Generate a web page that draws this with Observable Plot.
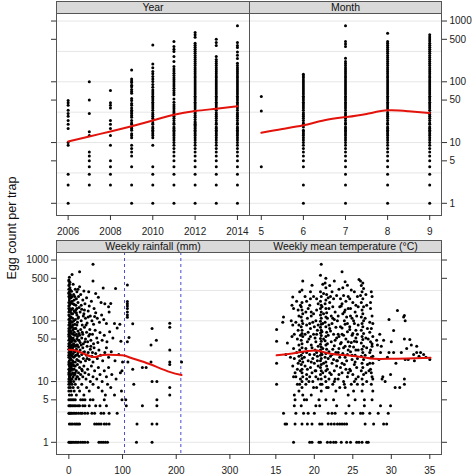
<!DOCTYPE html>
<html>
<head>
<meta charset="utf-8">
<script src="https://cdn.jsdelivr.net/npm/d3@7"></script>
<script src="https://cdn.jsdelivr.net/npm/@observablehq/plot@0.6"></script>
<style>
  html, body { margin: 0; padding: 0; background: #fff; }
  #chart { position: relative; width: 472px; height: 475px; overflow: hidden; font-family: "Liberation Sans", Arial, Helvetica, sans-serif; }
  .strip { position: absolute; box-sizing: border-box; height: 13px; background: #d9d9d9; border: 1px solid #555;
           font-size: 10.5px; line-height: 11px; text-align: center; color: #111; }
  #ylab { position: absolute; left: 0; top: 0; }
</style>
</head>
<body>
<div id="chart"></div>
<script>
// ---------------- DATA ----------------
const countTicks = [1, 5, 10, 50, 100, 500, 1000];
const yearTicks = [2006, 2008, 2010, 2012, 2014];
const monthTicks = [5, 6, 7, 8, 9];
const rainTicks = [0, 100, 200, 300];
const tempTicks = [15, 20, 25, 30, 35];
const stripLabels = ["Year", "Month", "Weekly rainfall (mm)", "Weekly mean temperature (°C)"];
const yTitle = "Egg count per trap";

// egg counts observed per year
const y2006 = [1,2,3,9,10,17,20,23,27,30,34,41,45,49];
const y2007 = [2,3,4,5,6,7,13,15,30,50,100];
const y2008 = [2,3,4,5,9,13,17,20,23,37,41,45,72];
const y2009 = [1,2,4,6,7,8,9,12,13,14,16,17,18,20,21,23,26,28,30,32,34,37,41,44,49,53,65,69,75,83,88,97,103,111,157];
const y2010 = [1,2,3,4,9,12,13,14,15,16,17,18,20,21,23,25,27,29,31,34,37,40,43,46,50,54,58,63,68,73,81,90,101,111,122,135,147,171,197,405];
const y2011 = [1,2,3,4,5,6,7,8,9,10,11,12,13,14,15,16,17,18,20,21,23,25,27,29,31,33,36,39,42,46,52,61,66,72,78,85,92,100,108,117,127,138,150,163,178,215,261,315,344,381,460];
const y2012 = [1,2,3,4,5,6,7,8,9,10,11,12,13,14,15,16,17,18,19,20,21,22,24,26,28,30,32,34,37,40,43,46,50,54,58,63,68,73,79,85,92,99,107,116,125,135,146,158,171,185,200,216,233,252,272,294,318,343,370,400,432,542,592,649];
const y2013 = [1,2,3,4,5,6,7,8,9,10,11,12,13,14,15,16,17,18,20,21,23,25,27,29,31,34,37,40,43,46,50,54,58,63,68,73,79,85,92,99,107,116,125,135,146,158,171,185,200,216,233,261,396,443,503];
const y2014 = [1,2,3,4,5,6,7,8,9,10,11,12,13,14,15,16,17,18,20,21,23,25,27,29,31,34,37,40,43,46,50,54,58,63,68,73,79,85,92,99,107,116,125,135,146,158,171,185,202,241,273,309,366,397,443,833];
const years = [2006, 2007, 2008, 2009, 2010, 2011, 2012, 2013, 2014];
const yearCounts = [y2006, y2007, y2008, y2009, y2010, y2011, y2012, y2013, y2014];
const yearFit = [10.4, 12.6, 15.2, 18.5, 23, 28.7, 33, 36, 39.5];

// egg counts observed per month
const m5 = [4, 33, 57];
const m6 = [1,2,4,5,6,7,8,9,10,11,12,13,14,15,16,18,20,21,23,25,27,29,31,34,37,40,43,46,50,54,58,63,68,73,79,85,92,99,107,116,125,133];
const m7 = [1,2,3,4,5,6,7,8,9,10,11,12,13,14,15,16,17,18,20,21,23,25,27,29,31,34,37,40,43,46,50,54,58,63,68,73,79,85,92,99,107,116,125,135,146,158,171,185,200,216,244,381,420,460,833];
const m8 = [1,2,3,4,5,6,7,8,9,10,11,12,13,14,15,16,17,18,20,21,23,25,27,29,31,34,37,40,43,46,50,54,58,63,68,73,79,85,92,99,107,116,125,135,146,158,171,185,200,216,233,252,272,294,318,343,370,400,432,460,630];
const m9 = [1,2,3,4,5,6,7,8,9,10,11,12,13,14,15,16,17,18,20,21,23,25,27,29,31,34,37,40,43,46,50,54,58,63,68,73,79,85,92,99,107,116,125,135,146,158,171,185,200,216,233,252,272,294,318,343,370,400,432,467,504,545,592];
const months = [5, 6, 7, 8, 9];
const monthCounts = [m5, m6, m7, m8, m9];
const monthFitX = [5, 5.5, 6, 6.5, 7, 7.5, 8, 8.5, 9];
const monthFit = [14.5, 16.7, 19.2, 23.2, 26.2, 29.6, 33.9, 32.8, 30.5];

// weekly rainfall (mm), egg count
const rainPts = [
 [45,850],[20,640],[6,578],[1,520],[0,470],[2,430],[8,400],[0,380],[45,450],[20,362],[64,347],[87,340],[12,330],[3,320],[28,310],[37,300],[5,305],[0,290],[15,300],
 [0,280],[2,260],[4,240],[1,220],[6,210],[9,270],[11,250],[14,230],[17,200],[3,190],[0,175],[7,160],[10,185],[19,165],[22,270],[26,220],[30,190],[33,240],[38,175],[42,210],[47,160],[55,245],[60,200],[67,190],[74,170],[50,280],[24,155],[13,150],[5,155],[2,200],[78,192],
 [0,140],[1,120],[3,100],[2,90],[5,130],[7,110],[8,85],[10,145],[12,105],[15,125],[16,95],[18,115],[21,140],[23,100],[25,85],[28,130],[31,110],[34,92],[36,145],[40,120],[43,100],[46,88],[50,135],[53,110],[57,95],[61,125],[65,105],[70,90],[75,140],[85,90],[95,88],[4,150],[0,105],[6,95],[11,88],[14,135],[29,150],[48,118],
 [0,75],[0,60],[1,50],[1,42],[2,68],[3,55],[3,45],[4,78],[5,62],[6,48],[7,70],[8,52],[9,42],[10,65],[11,58],[12,46],[13,75],[14,40],[16,55],[17,68],[18,48],[19,62],[21,44],[22,72],[24,52],[26,60],[27,42],[29,78],[31,50],[33,65],[35,45],[37,56],[39,72],[41,48],[44,60],[46,42],[49,70],[52,52],[54,44],[58,64],[62,48],[66,58],[71,45],[76,66],[82,52],[90,76],[97,46],[2,80],[0,55],[5,45],[9,75],[15,50],[20,58],[1,65],
 [0,38],[0,30],[0,25],[1,34],[1,22],[2,28],[2,36],[3,24],[3,32],[4,20],[4,38],[5,27],[6,33],[7,22],[7,36],[8,29],[9,25],[10,38],[11,31],[12,21],[13,27],[14,34],[15,23],[17,30],[18,37],[19,26],[21,33],[22,21],[24,28],[26,36],[27,24],[29,31],[31,22],[33,27],[34,38],[36,30],[38,23],[40,34],[43,26],[45,21],[47,36],[50,29],[53,24],[56,33],[59,27],[63,22],[67,30],[70,36],[74,25],[79,31],[86,22],[93,28],[100,21],[5,40],[16,40],
 [0,19],[0,16],[0,13],[0,11],[1,18],[1,14],[2,12],[2,17],[3,15],[3,10],[4,13],[5,18],[5,11],[6,16],[7,14],[8,12],[8,19],[9,10],[10,16],[11,13],[12,18],[13,11],[14,15],[15,12],[16,19],[18,14],[19,11],[20,17],[22,13],[24,16],[26,12],[28,18],[30,14],[32,11],[35,16],[37,13],[40,10],[42,18],[45,12],[48,15],[52,11],[55,17],[58,13],[62,10],[66,15],[70,12],[74,17],[80,13],[88,11],[96,14],
 [0,9],[0,8],[0,7],[1,6],[2,9],[3,8],[4,7],[5,6],[6,9],[8,8],[10,7],[12,9],[14,6],[17,8],[20,7],[24,9],[28,6],[33,8],[38,7],[45,9],[55,8],[62,7],[68,6],[72,9],[78,8],[85,6],[98,7],
 [0,5],[3,5],[6,5],[9,5],[12,5],[22,5],[26,5],[30,5],[40,5],[45,5],[66,5],[99,5],
 [0,4],[2,4],[4,4],[7,4],[10,4],[13,4],[17,4],[20,4],[26,4],[30,4],[38,4],[50,4],[58,4],[70,4],
 [0,3],[1,3],[3,3],[5,3],[8,3],[11,3],[14,3],[18,3],[22,3],[25,3],[30,3],[35,3],[43,3],[48,3],[60,3],[65,3],[75,3],[90,3],
 [1,2],[4,2],[7,2],[11,2],[14,2],[17,2],[20,2],[48,2],[52,2],[56,2],[60,2],[66,2],[70,2],[75,2],
 [0,1],[2,1],[4,1],[6,1],[9,1],[12,1],[15,1],[18,1],[22,1],[26,1],[30,1],[35,1],[56,1],[60,1],[64,1],[68,1],[72,1],
 [0,450],[1,400],[0,330],[1,300],[2,350],[0,250],[1,240],[3,270],[0,200],[1,180],[2,160],[4,200],[0,160],[1,150],[3,140],[0,125],[2,110],[4,115],[1,95],[3,85],[0,85],[2,75],[4,65],[0,68],[1,58],[3,50],[0,48],[2,44],[4,52],[0,42],[1,38],[3,36],[0,34],[2,32],[4,30],[1,28],[3,27],[0,27],[2,24],[4,23],[1,20],[0,21],[3,19],[2,16],[4,17],[1,15],[0,14],[3,13],[2,11],[1,12],[4,10],[0,10],
 [6,250],[8,190],[10,220],[7,130],[9,100],[6,80],[8,60],[10,48],[7,40],[9,32],[6,26],[8,21],[10,18],[7,16],[9,13],[6,11],[11,140],[12,75],[13,38],[11,26],[12,14],[14,60],[16,28],[15,85],[17,110],[19,48],[18,22],[16,12],[13,180],[15,160],[18,250],[17,330],[23,180],[27,120],[25,65],[23,40],[27,30],[25,15],[32,85],[30,45],[34,24],[36,115],[39,60],[41,38],[44,30],
 [109,389],[109,207],[109,190],[109,175],[109,160],[109,140],[109,125],[109,114],[119,89],[155,75],[188,91],[188,78],[163,48],[153,40],[112,53],[109,45],
 [188,33],[153,21],[188,21],[188,19],[210,21],[110,21],[119,16],[137,17],[144,17],[99,15],[121,9],[155,10],[164,10],[188,8],[188,6],
 [106,5],[164,5],[107,4],[137,4],[164,4],[127,2],[155,2],[164,2],[126,1],[155,1]
];
const rainThresholds = [103.7, 208.6];
const rainFitX = [0, 12.5, 28, 46.6, 59, 74.5, 99.4, 115, 140, 164.6, 189, 210];
const rainFit = [33.5, 32.5, 28.7, 25.3, 27, 27.6, 27, 24.7, 21, 17.3, 14.3, 12.8];

// weekly mean temperature (°C), egg count
const tempPts = [
 [15.1,72],[15.1,46],[15.1,20],[15.1,9],[15.9,95],[16.0,115],[16.3,28],[16.0,3],[16.2,2],[16.4,2],[16.9,25],[16.5,43],[17.2,247],[17.1,180],[17.3,160],[17.0,100],[17.2,85],[17.4,60],[17.1,55],[17.3,35],[17.4,24],[17.2,18],[17.5,14],[17.3,12],[17.4,6],[17.5,5],[17.3,1],[17.5,2],[17.4,4],[17.6,3],
 [18.5,450],[18.4,320],[18.4,200],[18.3,170],[18.4,150],[18.5,130],[18.3,115],[18.4,100],[18.5,90],[18.3,80],[18.4,70],[18.4,62],[18.5,55],[18.3,48],[18.4,42],[18.4,36],[18.5,30],[18.3,27],[18.4,24],[18.5,21],[18.3,19],[18.4,16],[18.4,14],[18.5,12],[18.4,10],[18.4,8],[18.5,6],[18.4,2],
 [18.0,120],[17.9,70],[18.8,250],[18.9,140],[18.8,60],[18.0,40],[18.9,35],[18.7,25],[18.1,22],[18.8,18],[17.8,16],[19.0,13],[18.2,11],[18.9,9],[18.0,7],[18.7,5],[18.3,4],[18.6,3],[19.1,2],[19.0,5],
 [19.7,385],[19.5,230],[19.4,180],[19.6,120],[19.8,95],[19.5,75],[19.9,60],[19.3,50],[19.6,40],[20.1,33],[19.4,28],[19.8,24],[20.0,20],[19.5,17],[19.7,14],[20.2,12],[19.3,10],[19.9,8],[19.6,6],[20.2,4],[19.4,1],[19.7,1],[19.7,2],[20.3,150],[20.4,70],[20.2,45],[20.4,26],[20.5,18],[20.0,3],[19.2,3],
 [20.9,850],[20.8,560],[20.8,300],[20.9,250],[20.8,210],[20.9,180],[20.8,160],[20.9,140],[20.8,125],[20.9,110],[20.8,98],[20.9,88],[20.8,78],[20.9,70],[20.8,63],[20.9,57],[20.8,51],[20.9,46],[20.8,41],[20.9,37],[20.8,33],[20.9,30],[20.8,27],[20.9,24],[20.8,22],[20.9,19],[20.8,17],[20.9,15],[20.8,13],[20.9,11],[20.8,9],[20.9,7],[20.6,5],[20.6,1],[20.8,1],[20.7,2],[21.0,2],[20.7,4],
 [21.5,500],[21.4,420],[21.5,350],[21.6,270],[21.5,220],[21.4,190],[21.5,160],[21.6,135],[21.5,115],[21.4,95],[21.5,80],[21.6,65],[21.5,55],[21.4,47],[21.5,40],[21.6,34],[21.5,29],[21.4,25],[21.5,21],[21.6,18],[21.5,15],[21.4,12],[21.5,10],[21.6,8],[21.7,1],[21.8,2],[21.5,5],[21.8,3],
 [22.1,250],[22.3,300],[22.0,200],[22.6,450],[22.5,230],[22.4,170],[22.7,140],[22.2,120],[22.6,105],[22.3,90],[22.8,78],[22.1,68],[22.5,60],[22.9,52],[22.2,45],[22.6,39],[22.4,34],[22.8,30],[22.1,26],[22.5,23],[22.3,20],[22.9,18],[22.6,15],[22.2,13],[22.7,11],[22.4,9],[22.8,7],[22.5,5],[22.1,1],[22.5,1],[22.8,1],[22.2,2],[22.6,2],[23.0,2],[22.3,3],[22.7,3],[22.9,4],[23.0,100],[23.1,60],[23.2,35],[23.0,22],[23.2,13],
 [23.6,640],[24.0,440],[24.3,385],[23.8,260],[24.1,210],[23.5,175],[24.0,150],[23.7,130],[24.2,115],[23.9,100],[24.0,88],[23.6,76],[24.3,66],[23.8,58],[24.1,50],[23.5,44],[24.0,38],[24.4,33],[23.7,29],[24.0,25],[24.2,22],[23.9,19],[24.1,16],[23.6,14],[24.3,12],[23.8,10],[24.0,8],[23.5,1],[24.2,1],[24.7,1],[23.3,2],[23.6,2],[23.9,2],[24.2,2],[24.1,3],[24.5,4],[24.4,6],
 [24.8,320],[25.0,200],[24.7,160],[25.3,140],[24.9,110],[25.2,90],[24.6,72],[25.0,62],[25.4,52],[24.8,44],[25.1,37],[24.7,31],[25.3,27],[24.9,23],[25.2,19],[24.6,16],[25.0,13],[25.4,11],[24.8,9],[25.1,7],[25.5,1],[25.8,1],[25.0,3],[25.3,5],
 [25.8,480],[26.0,450],[26.3,420],[26.1,380],[26.4,340],[26.2,300],[26.0,260],[26.3,230],[26.1,200],[26.4,170],[26.2,150],[26.3,130],[26.1,115],[26.4,100],[26.2,90],[26.3,80],[26.1,70],[26.4,62],[26.2,55],[26.3,49],[26.1,43],[26.4,38],[26.2,34],[26.3,30],[26.1,26],[26.4,23],[26.2,20],[26.3,17],[26.1,15],[26.4,13],[26.2,11],[26.3,9],[26.2,7],[26.5,5],[26.2,1],[26.8,1],[27.0,1],[26.6,2],[26.0,3],[26.5,4],[26.3,3],
 [27.4,300],[27.3,200],[27.5,120],[27.2,95],[27.4,75],[27.6,55],[27.3,45],[27.5,38],[27.2,30],[27.4,25],[27.6,20],[27.3,16],[27.5,12],[27.4,9],[27.6,7],[27.5,5],[27.7,2],[27.2,3],[27.0,50],[27.1,15],
 [28.2,40],[28.5,60],[28.7,38],[28.4,23],[28.9,12],[28.6,30],[28.1,48],[29.0,48],[28.8,11],[29.2,10],[28.6,4],[29.0,2],[29.4,2],[28.3,3],
 [29.7,105],[30.0,45],[30.3,69],[29.9,13],[29.7,30],[30.3,30],[29.6,3],[29.9,4],[30.5,8],[30.8,147],[31.3,30],[30.6,20],[31.1,8],[29.5,25],
 [31.7,122],[31.6,115],[31.8,100],[31.7,50],[31.8,23],[32.2,23],[31.7,11],[31.7,9],[32.4,49],[32.6,40],[32.0,35],[32.9,28],
 [33.3,38],[33.3,30],[33.6,26],[33.8,30],[34.2,28],[34.5,25],[35.0,23],[33.0,22],
 [17.7,210],[17.9,150],[17.6,95],[17.8,50],[17.7,30],[17.9,20],[17.6,12],[17.8,9],
 [18.1,300],[18.2,180],[18.0,85],[18.2,58],[18.1,33],[18.0,26],[18.2,15],[18.1,9],
 [19.0,210],[19.2,160],[19.1,110],[19.0,85],[19.2,65],[19.1,45],[19.0,30],[19.2,22],[19.1,16],[19.0,11],
 [19.5,300],[19.9,250],[19.6,140],[19.9,130],[19.4,90],[20.0,80],[19.5,55],[20.1,52],[19.7,36],[20.0,28],[19.6,21],[20.1,15],[19.4,12],[19.8,10],
 [20.3,230],[20.5,190],[20.2,100],[20.5,85],[20.3,60],[20.5,38],[20.3,30],[20.4,22],[20.2,15],[20.5,11],[20.3,8],
 [21.1,400],[21.2,280],[21.0,170],[21.2,130],[21.1,90],[21.0,66],[21.2,50],[21.1,35],[21.0,28],[21.2,20],[21.1,14],[21.0,9],
 [21.8,240],[21.9,160],[21.7,110],[21.9,85],[21.8,58],[21.7,42],[21.9,31],[21.8,24],[21.7,16],[21.9,11],[21.8,8],
 [22.0,380],[22.9,260],[22.4,110],[22.0,75],[22.7,48],[22.3,28],[22.9,22],[22.0,14],[22.6,10],
 [23.2,330],[23.4,230],[23.3,170],[23.1,120],[23.4,80],[23.2,55],[23.4,42],[23.1,30],[23.3,25],[23.4,17],[23.1,11],[23.3,8],
 [23.7,350],[24.4,250],[23.6,190],[24.4,160],[23.9,140],[24.3,90],[23.6,60],[24.4,45],[23.8,36],[24.3,28],[23.6,20],[24.4,14],[23.9,9],
 [24.6,230],[25.2,300],[25.4,180],[24.7,120],[25.1,100],[24.6,80],[25.4,70],[24.9,58],[25.2,46],[24.6,38],[25.4,33],[24.9,27],[25.3,21],[24.7,15],[25.2,10],
 [25.6,250],[25.7,170],[25.5,120],[25.7,85],[25.6,60],[25.5,45],[25.7,33],[25.6,24],[25.5,17],[25.7,12],[25.6,9],
 [26.7,270],[26.8,180],[26.6,110],[26.9,75],[26.7,52],[26.8,36],[26.6,27],[26.9,19],[26.7,14],[26.8,10],
 [27.5,250],[27.3,160],[27.6,90],[27.2,65],[27.5,42],[27.3,33],[27.6,26],[27.2,20],[27.4,14],[27.6,11]
];
const tempFitX = [15.1, 16.9, 19.1, 20.4, 22.1, 24.3, 26.4, 27.7, 29.9, 32.1, 35.1];
const tempFit = [27, 28.7, 31.7, 32.3, 28.7, 27, 25, 23.7, 23.7, 24, 24.7];

// ---------------- BUILD ----------------
const W = 472, H = 475;
const yDomain = [0.63, 1330];
const gridVals = d3.range(0, 7).map(k => Math.pow(10, k / 2));
const FONT = '"Liberation Sans", Arial, Helvetica, sans-serif';

const yearRows = years.flatMap((yr, i) => yearCounts[i].map(c => ({x: yr, y: c})));
const monthRows = months.flatMap((m, i) => monthCounts[i].map(c => ({x: m, y: c})));
const rainRows = rainPts.map(([x, y]) => ({x, y}));
const tempRows = tempPts.map(([x, y]) => ({x, y}));
const yearFitRows = years.map((x, i) => ({x, y: yearFit[i]}));
const monthFitRows = monthFitX.map((x, i) => ({x, y: monthFit[i]}));
const rainFitRows = rainFitX.map((x, i) => ({x, y: rainFit[i]}));
const tempFitRows = tempFitX.map((x, i) => ({x, y: tempFit[i]}));

const COL = {left: [56, 249], right: [249, 441]};
const ROW = {top: [13, 215], bottom: [252, 454]};

function panel({col, row, xDomain, xTicks, yAnchor, yLabels, rows, fit, extra = []}) {
  const [x0, x1] = COL[col], [y0, y1] = ROW[row];
  const right = yAnchor === "right";
  const svg = Plot.plot({
    width: W, height: H,
    marginLeft: x0, marginRight: W - x1, marginTop: y0, marginBottom: H - y1,
    style: {background: "transparent", fontFamily: FONT, fontSize: "10px", color: "#222"},
    x: {type: "linear", domain: xDomain},
    y: {type: "log", domain: yDomain},
    marks: [
      Plot.ruleY(gridVals, {stroke: "#e6e6e6", strokeWidth: 1}),
      ...extra,
      Plot.dot(rows, {x: "x", y: "y", r: 1.5, fill: "#000", stroke: null}),
      Plot.line(fit, {x: "x", y: "y", stroke: "#e3120b", strokeWidth: 2, curve: "natural"}),
      Plot.frame({stroke: "#555", strokeWidth: 1}),
      Plot.axisX({ticks: xTicks, tickSize: 5, tickPadding: 7, tickFormat: d => String(d), label: null, stroke: "#333"}),
      Plot.axisY({anchor: yAnchor, ticks: countTicks, tickSize: 5, tickPadding: 3,
                  tickFormat: () => "", label: null, stroke: "#333"}),
      ...(yLabels ? [Plot.text(countTicks, {y: d => d, text: d => String(d), frameAnchor: yAnchor,
                  dx: right ? 8 : -8, textAnchor: right ? "start" : "end", fill: "#222", fontSize: 10})] : [])
    ]
  });
  svg.style.position = "absolute";
  svg.style.left = "0px";
  svg.style.top = "0px";
  svg.style.background = "transparent";
  svg.style.maxWidth = "none";
  return svg;
}

const chart = document.getElementById("chart");
chart.appendChild(panel({col: "left", row: "top", xDomain: [2005.45, 2014.57], xTicks: yearTicks,
  yAnchor: "left", yLabels: false, rows: yearRows, fit: yearFitRows}));
chart.appendChild(panel({col: "right", row: "top", xDomain: [4.72, 9.28], xTicks: monthTicks,
  yAnchor: "right", yLabels: true, rows: monthRows, fit: monthFitRows}));
chart.appendChild(panel({col: "left", row: "bottom", xDomain: [-23, 336.5], xTicks: rainTicks,
  yAnchor: "left", yLabels: true, rows: rainRows, fit: rainFitRows,
  extra: [Plot.ruleX(rainThresholds, {stroke: "#4b4bd6", strokeWidth: 1, strokeDasharray: "3,3"})]}));
chart.appendChild(panel({col: "right", row: "bottom", xDomain: [11.58, 36.52], xTicks: tempTicks,
  yAnchor: "right", yLabels: false, rows: tempRows, fit: tempFitRows}));

// strips
const stripPos = [[56, 1, 193], [249, 1, 192], [56, 240, 193], [249, 240, 192]];
stripLabels.forEach((t, i) => {
  const d = document.createElement("div");
  d.className = "strip";
  const [l, tp, w] = stripPos[i];
  d.style.left = l + "px"; d.style.top = tp + "px"; d.style.width = (w + 1) + "px";
  d.textContent = t;
  chart.appendChild(d);
});

// y-axis title
const ns = "http://www.w3.org/2000/svg";
const s = document.createElementNS(ns, "svg");
s.setAttribute("id", "ylab");
s.setAttribute("width", 24); s.setAttribute("height", H);
const tx = document.createElementNS(ns, "text");
tx.setAttribute("transform", "translate(16,228) rotate(-90)");
tx.setAttribute("text-anchor", "middle");
tx.setAttribute("font-family", FONT);
tx.setAttribute("font-size", "12.5");
tx.setAttribute("fill", "#111");
tx.textContent = yTitle;
s.appendChild(tx);
chart.appendChild(s);
</script>
</body>
</html>
